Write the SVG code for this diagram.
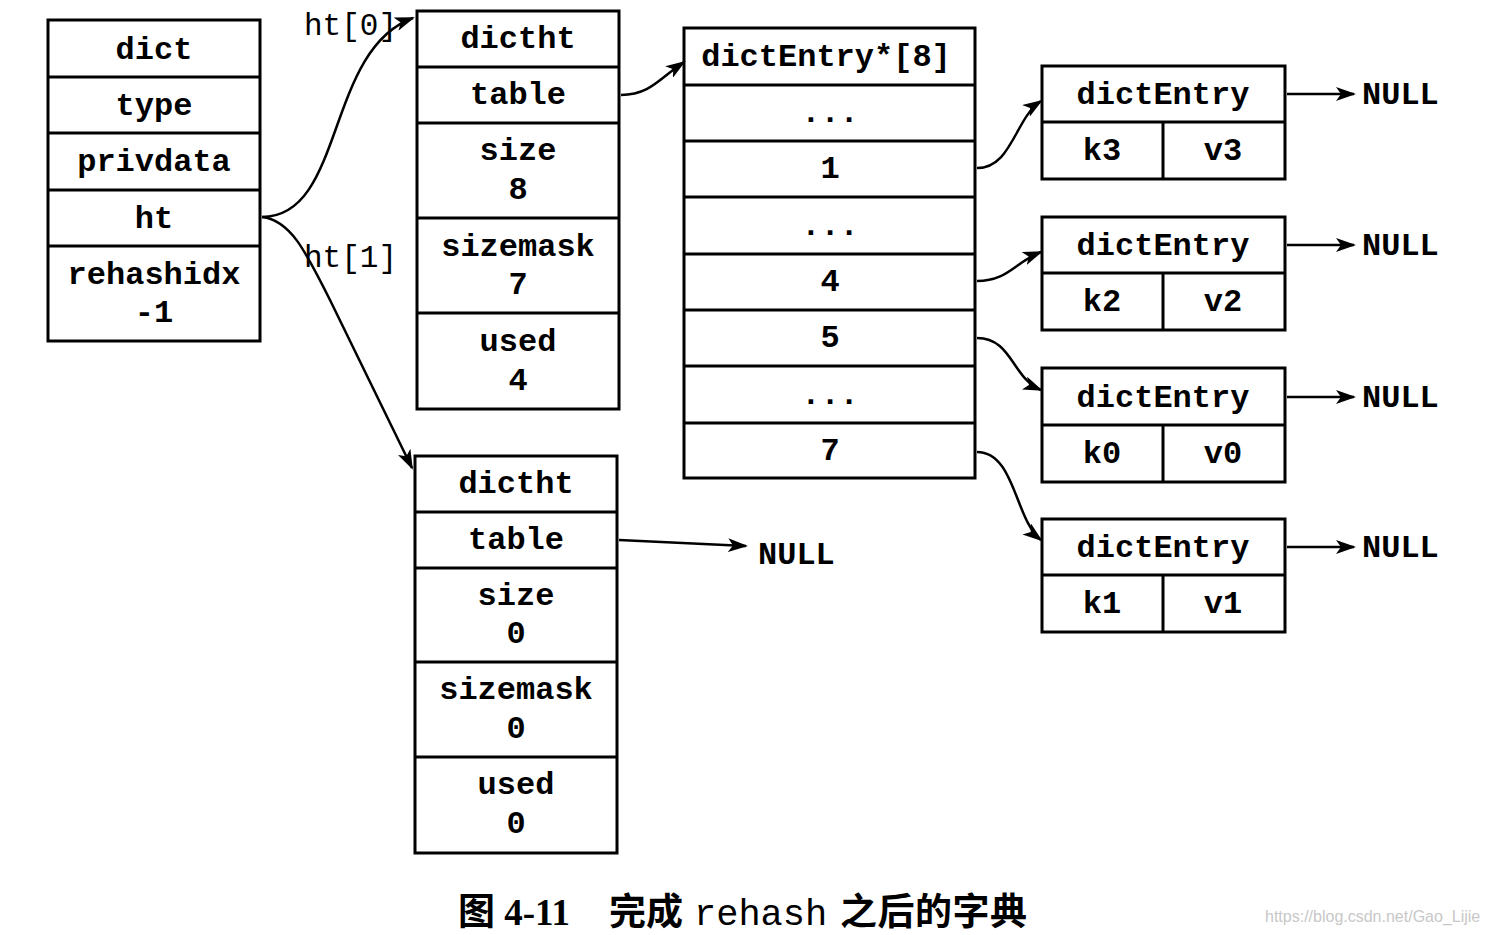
<svg xmlns="http://www.w3.org/2000/svg" width="1489" height="935" viewBox="0 0 1489 935">
<style>
.box{fill:#fff;stroke:#000;stroke-width:3}
.ln{stroke:#000;stroke-width:3}
.t{font-family:"Liberation Mono","Courier New",monospace;font-weight:bold;font-size:32px;fill:#000;text-anchor:middle}
.lbl{font-family:"Liberation Mono","Courier New",monospace;font-size:31px;fill:#000}
.null{font-family:"Liberation Mono","Courier New",monospace;font-weight:bold;font-size:32px;fill:#000}
.c{fill:none;stroke:#000;stroke-width:2.5}
.cap{font-family:"Liberation Serif","Noto Sans CJK SC",serif;font-weight:bold;font-size:37px;fill:#000}
.capm{font-family:"Liberation Mono","Courier New",monospace;font-size:37px;fill:#000}
.wm{font-family:"Liberation Sans",Arial,sans-serif;font-size:16px;fill:#c8c8c8}
</style>
<defs>
<marker id="ah" markerWidth="20" markerHeight="14" refX="18" refY="7" orient="auto" markerUnits="userSpaceOnUse">
<path d="M0,0 L20,7 L0,14 L5,7 Z" fill="#000"/>
</marker>
</defs>
<rect width="1489" height="935" fill="#fff"/>

<g id="dict">
<rect class="box" x="48" y="20" width="212" height="321"/>
<line class="ln" x1="48" y1="77" x2="260" y2="77"/>
<line class="ln" x1="48" y1="133" x2="260" y2="133"/>
<line class="ln" x1="48" y1="190" x2="260" y2="190"/>
<line class="ln" x1="48" y1="246" x2="260" y2="246"/>
<text class="t" x="154" y="59">dict</text>
<text class="t" x="154" y="115">type</text>
<text class="t" x="154" y="171">privdata</text>
<text class="t" x="154" y="228">ht</text>
<text class="t" x="154" y="284">rehashidx</text>
<text class="t" x="154" y="322">-1</text>
</g>

<g id="dictht0">
<rect class="box" x="417" y="11" width="202" height="398"/>
<line class="ln" x1="417" y1="67" x2="619" y2="67"/>
<line class="ln" x1="417" y1="123" x2="619" y2="123"/>
<line class="ln" x1="417" y1="218" x2="619" y2="218"/>
<line class="ln" x1="417" y1="313" x2="619" y2="313"/>
<text class="t" x="518" y="48">dictht</text>
<text class="t" x="518" y="104">table</text>
<text class="t" x="518" y="160">size</text>
<text class="t" x="518" y="199">8</text>
<text class="t" x="518" y="256">sizemask</text>
<text class="t" x="518" y="294">7</text>
<text class="t" x="518" y="351">used</text>
<text class="t" x="518" y="390">4</text>
</g>

<g id="dictht1">
<rect class="box" x="415" y="456" width="202" height="397"/>
<line class="ln" x1="415" y1="512" x2="617" y2="512"/>
<line class="ln" x1="415" y1="568" x2="617" y2="568"/>
<line class="ln" x1="415" y1="662" x2="617" y2="662"/>
<line class="ln" x1="415" y1="757" x2="617" y2="757"/>
<text class="t" x="516" y="493">dictht</text>
<text class="t" x="516" y="549">table</text>
<text class="t" x="516" y="605">size</text>
<text class="t" x="516" y="643">0</text>
<text class="t" x="516" y="699">sizemask</text>
<text class="t" x="516" y="738">0</text>
<text class="t" x="516" y="794">used</text>
<text class="t" x="516" y="833">0</text>
</g>

<g id="table">
<rect class="box" x="684" y="28" width="291" height="450"/>
<line class="ln" x1="684" y1="85" x2="975" y2="85"/>
<line class="ln" x1="684" y1="141" x2="975" y2="141"/>
<line class="ln" x1="684" y1="197" x2="975" y2="197"/>
<line class="ln" x1="684" y1="254" x2="975" y2="254"/>
<line class="ln" x1="684" y1="310" x2="975" y2="310"/>
<line class="ln" x1="684" y1="366" x2="975" y2="366"/>
<line class="ln" x1="684" y1="423" x2="975" y2="423"/>
<text class="t" x="826" y="66">dictEntry*[8]</text>
<text class="t" x="830" y="122">...</text>
<text class="t" x="830" y="178">1</text>
<text class="t" x="830" y="235">...</text>
<text class="t" x="830" y="291">4</text>
<text class="t" x="830" y="347">5</text>
<text class="t" x="830" y="404">...</text>
<text class="t" x="830" y="460">7</text>
</g>

<g id="entry3">
<rect class="box" x="1042" y="66" width="243" height="113"/>
<line class="ln" x1="1042" y1="122" x2="1285" y2="122"/>
<line class="ln" x1="1163" y1="122" x2="1163" y2="179"/>
<text class="t" x="1163" y="104">dictEntry</text>
<text class="t" x="1102" y="160">k3</text>
<text class="t" x="1223" y="160">v3</text>
</g>
<g id="entry2">
<rect class="box" x="1042" y="217" width="243" height="113"/>
<line class="ln" x1="1042" y1="273" x2="1285" y2="273"/>
<line class="ln" x1="1163" y1="273" x2="1163" y2="330"/>
<text class="t" x="1163" y="255">dictEntry</text>
<text class="t" x="1102" y="311">k2</text>
<text class="t" x="1223" y="311">v2</text>
</g>
<g id="entry0">
<rect class="box" x="1042" y="368" width="243" height="114"/>
<line class="ln" x1="1042" y1="425" x2="1285" y2="425"/>
<line class="ln" x1="1163" y1="425" x2="1163" y2="482"/>
<text class="t" x="1163" y="407">dictEntry</text>
<text class="t" x="1102" y="463">k0</text>
<text class="t" x="1223" y="463">v0</text>
</g>
<g id="entry1">
<rect class="box" x="1042" y="519" width="243" height="113"/>
<line class="ln" x1="1042" y1="575" x2="1285" y2="575"/>
<line class="ln" x1="1163" y1="575" x2="1163" y2="632"/>
<text class="t" x="1163" y="557">dictEntry</text>
<text class="t" x="1102" y="613">k1</text>
<text class="t" x="1223" y="613">v1</text>
</g>

<g id="labels">
<text class="lbl" x="304" y="35">ht[0]</text>
<text class="lbl" x="304" y="267">ht[1]</text>
<text class="null" x="1362" y="104">NULL</text>
<text class="null" x="1362" y="255">NULL</text>
<text class="null" x="1362" y="407">NULL</text>
<text class="null" x="1362" y="557">NULL</text>
<text class="null" x="758" y="564">NULL</text>
</g>

<g id="connectors">
<path class="c" marker-end="url(#ah)" d="M262,217 C345,217 325,50 413,18"/>
<path class="c" marker-end="url(#ah)" d="M262,217 C290,220 305,250 330,300 L412,468"/>
<path class="c" marker-end="url(#ah)" d="M621,95 C650,95 660,78 684,62"/>
<path class="c" marker-end="url(#ah)" d="M977,168 C1012,168 1015,118 1041,101"/>
<path class="c" marker-end="url(#ah)" d="M977,281 C1008,281 1015,262 1041,252"/>
<path class="c" marker-end="url(#ah)" d="M977,338 C1012,338 1012,378 1041,390"/>
<path class="c" marker-end="url(#ah)" d="M977,452 C1015,452 1015,520 1041,540"/>
<path class="c" marker-end="url(#ah)" d="M1287,94 L1354,94"/>
<path class="c" marker-end="url(#ah)" d="M1287,245 L1354,245"/>
<path class="c" marker-end="url(#ah)" d="M1287,397 L1354,397"/>
<path class="c" marker-end="url(#ah)" d="M1287,547 L1354,547"/>
<path class="c" marker-end="url(#ah)" d="M619,540 L746,546"/>
</g>

<g id="caption">
<text class="cap" x="458" y="925">图 4-11</text>
<text class="cap" x="609" y="925">完成</text>
<text class="capm" x="694" y="925">rehash</text>
<text class="cap" x="840" y="925" textLength="187">之后的字典</text>
<text class="wm" x="1265" y="922">https://blog.csdn.net/Gao_Lijie</text>
</g>
</svg>
